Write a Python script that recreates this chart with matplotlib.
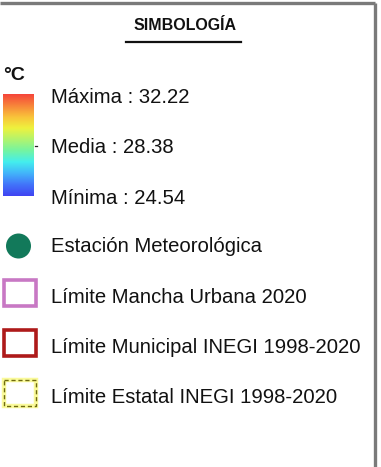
import numpy as np
import matplotlib
matplotlib.use("Agg")
import matplotlib.pyplot as plt
from matplotlib.colors import LinearSegmentedColormap
from matplotlib.patches import Rectangle, Circle

plt.rcParams['font.family'] = ['Liberation Sans', 'DejaVu Sans']

# ---- data ----
title = "SIMBOLOGÍA"
unit = "°C"
temp_names = ["Máxima", "Media", "Mínima"]
temp_values = [32.22, 28.38, 24.54]
layer_labels = ["Estación Meteorológica", "Límite Mancha Urbana 2020",
                "Límite Municipal INEGI 1998-2020", "Límite Estatal INEGI 1998-2020"]
ramp_colors = ['#f5453a', '#f7843a', '#f9c23a', '#eef23e', '#b2f46e',
               '#74f4a2', '#44eeee', '#42b4fa', '#4274fa', '#4044f2']

W, H = 381, 467
fig = plt.figure(figsize=(W / 100, H / 100), dpi=100)
ax = fig.add_axes([0, 0, 1, 1])
ax.set_xlim(0, W)
ax.set_ylim(H, 0)
ax.axis('off')

# frame (top + right)
ax.plot([0, 374.5], [3, 3], color='#7a7a7a', lw=2.4, solid_capstyle='butt')
ax.plot([374.5, 374.5], [3, H], color='#7a7a7a', lw=2.4, solid_capstyle='butt')

# title
ax.text(185, 25, title, fontsize=11.5, fontweight='bold', ha='center', va='center', color='#111')
ax.plot([126, 241], [42, 42], color='#111', lw=1.6)

# unit
ax.text(3, 80, unit, fontsize=14, fontweight='bold', ha='left', va='baseline', color='#111')

# colour ramp
cmap = LinearSegmentedColormap.from_list('ramp', ramp_colors)
grad = np.linspace(0, 1, 256).reshape(-1, 1)
ax.imshow(grad, cmap=cmap, aspect='auto', extent=(3, 34, 196, 94), interpolation='bilinear')
ax.plot([34.5, 37], [146, 146], color='#222', lw=0.9)

fs = 14.6
ybase = [103, 153, 204]
for name, val, yb in zip(temp_names, temp_values, ybase):
    ax.text(51, yb, f"{name} : {val:.2f}", fontsize=fs, ha='left', va='baseline', color='#111')

# layer symbols
ybl = [252, 303, 353, 403]
ax.add_patch(Circle((18.5, 246), 12.5, facecolor='#12795a', edgecolor='none'))
ax.add_patch(Rectangle((4, 280), 32, 26, facecolor='white', edgecolor='#c878c4', lw=2.6))
ax.add_patch(Rectangle((4, 330), 32, 26, facecolor='white', edgecolor='#ae1a1a', lw=2.6))
ax.add_patch(Rectangle((4, 380), 32, 26, facecolor='white', edgecolor='#fafa9a', lw=3.2))
ax.add_patch(Rectangle((4, 380), 32, 26, facecolor='none', edgecolor='#6e6a10', lw=1.0,
                       linestyle=(0, (3, 2))))
for lab, yb in zip(layer_labels, ybl):
    ax.text(51, yb, lab, fontsize=fs, ha='left', va='baseline', color='#111')

fig.savefig('out.png', dpi=100)
